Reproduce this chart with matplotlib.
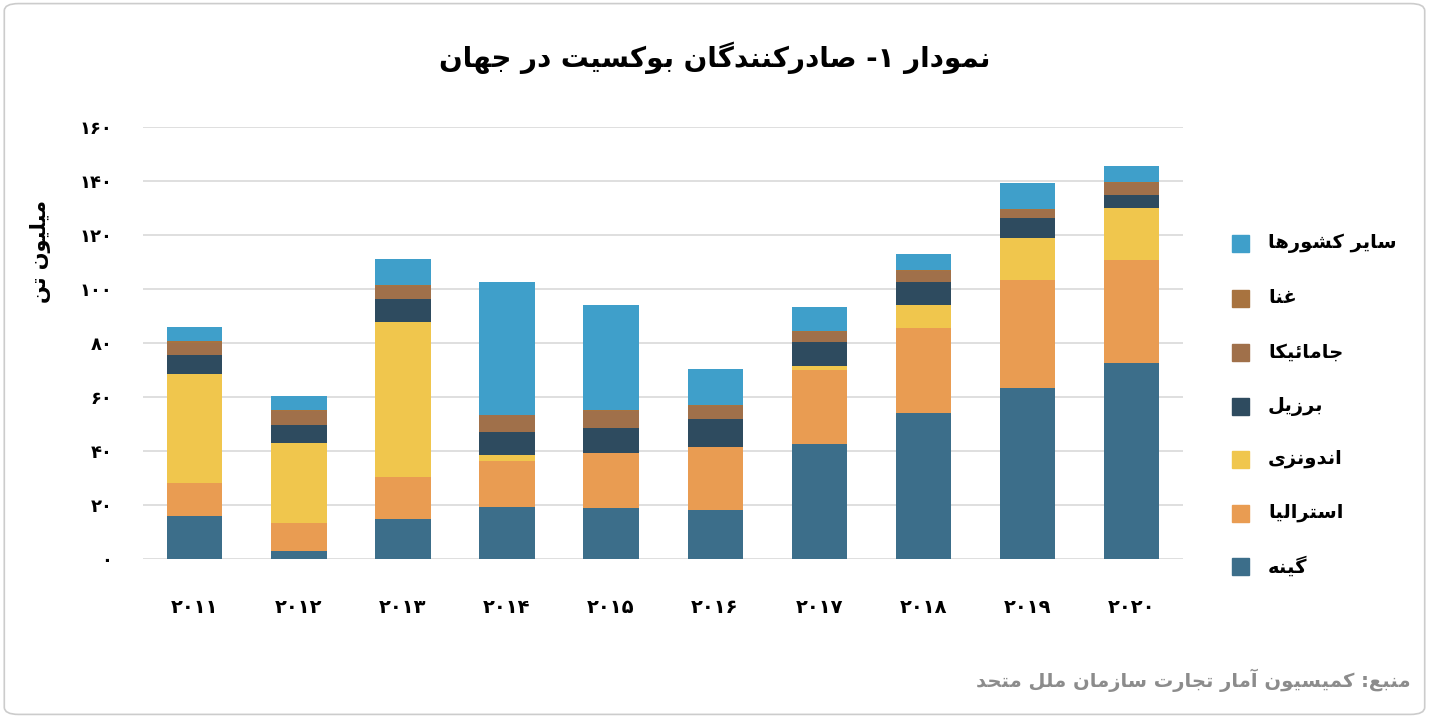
import matplotlib.pyplot as plt
import matplotlib.patches as mpatches
import numpy as np

years = ['۲۰۱۱', '۲۰۱۲', '۲۰۱۳', '۲۰۱۴', '۲۰۱۵', '۲۰۱۶', '۲۰۱۷', '۲۰۱۸', '۲۰۱۹', '۲۰۲۰']
guinea = [16, 3, 14.8, 19.3, 18.9, 18.1, 42.6, 54, 63.3, 72.6]
australia = [12, 10.3, 15.6, 17, 20.4, 23.4, 27.4, 31.5, 40, 38.1]
indonesia = [40.5, 29.7, 57.4, 2.2, 0, 0, 1.5, 8.5, 15.6, 19.3]
brazil = [7, 6.6, 8.5, 8.5, 9.2, 10.4, 8.9, 8.6, 7.4, 4.8]
jamaica = [4.5, 5.1, 4.7, 6.3, 6.3, 4.8, 3.6, 4, 3.0, 4.4]
ghana = [0.8, 0.5, 0.5, 0.2, 0.2, 0.2, 0.4, 0.4, 0.3, 0.4]
others = [5, 5, 9.5, 48.9, 39.2, 13.3, 8.9, 6, 9.7, 6]
yticks = [0, 20, 40, 60, 80, 100, 120, 140, 160]
ytick_labels = ['۰', '۲۰', '۴۰', '۶۰', '۸۰', '۱۰۰', '۱۲۰', '۱۴۰', '۱۶۰']

series = [
    ('گینه', guinea, '#3c6e8a'),
    ('استرالیا', australia, '#e99c52'),
    ('اندونزی', indonesia, '#f0c64d'),
    ('برزیل', brazil, '#2e4b5f'),
    ('جامائیکا', jamaica, '#a0704a'),
    ('غنا', ghana, '#a8733f'),
    ('سایر کشورها', others, '#3f9fca'),
]

# minimal Persian shaping: (isolated, final, initial, medial)
FORMS = {
    'ا': (0xFE8D, 0xFE8E, None, None), 'آ': (0xFE81, 0xFE82, None, None),
    'ب': (0xFE8F, 0xFE90, 0xFE91, 0xFE92), 'ت': (0xFE95, 0xFE96, 0xFE97, 0xFE98),
    'ج': (0xFE9D, 0xFE9E, 0xFE9F, 0xFEA0), 'ح': (0xFEA1, 0xFEA2, 0xFEA3, 0xFEA4),
    'د': (0xFEA9, 0xFEAA, None, None), 'ر': (0xFEAD, 0xFEAE, None, None),
    'ز': (0xFEAF, 0xFEB0, None, None), 'س': (0xFEB1, 0xFEB2, 0xFEB3, 0xFEB4),
    'ش': (0xFEB5, 0xFEB6, 0xFEB7, 0xFEB8), 'ص': (0xFEB9, 0xFEBA, 0xFEBB, 0xFEBC),
    'ع': (0xFEC9, 0xFECA, 0xFECB, 0xFECC), 'غ': (0xFECD, 0xFECE, 0xFECF, 0xFED0),
    'ف': (0xFED1, 0xFED2, 0xFED3, 0xFED4), 'ل': (0xFEDD, 0xFEDE, 0xFEDF, 0xFEE0),
    'م': (0xFEE1, 0xFEE2, 0xFEE3, 0xFEE4), 'ن': (0xFEE5, 0xFEE6, 0xFEE7, 0xFEE8),
    'ه': (0xFEE9, 0xFEEA, 0xFEEB, 0xFEEC), 'و': (0xFEED, 0xFEEE, None, None),
    'ئ': (0xFE89, 0xFE8A, 0xFE8B, 0xFE8C), 'ی': (0xFBFC, 0xFBFD, 0xFBFE, 0xFBFF),
    'ک': (0xFB8E, 0xFB8F, 0xFB90, 0xFB91), 'گ': (0xFB92, 0xFB93, 0xFB94, 0xFB95),
}


def fa(s):
    out = []
    for i, c in enumerate(s):
        if c not in FORMS:
            out.append(c)
            continue
        p = s[i - 1] if i > 0 else ''
        n = s[i + 1] if i + 1 < len(s) else ''
        jp = p in FORMS and FORMS[p][2] is not None
        jn = n in FORMS and FORMS[c][2] is not None
        f = FORMS[c]
        if jp and jn:
            code = f[3]
        elif jp:
            code = f[1]
        elif jn:
            code = f[2]
        else:
            code = f[0]
        out.append(chr(code))
    return ''.join(out)[::-1]


plt.rcParams['font.family'] = 'DejaVu Sans'
plt.rcParams['font.weight'] = 'bold'

fig = plt.figure(figsize=(14.29, 7.18), dpi=100)
fig.patches.append(mpatches.FancyBboxPatch((0.003, 0.005), 0.994, 0.99, boxstyle='round,pad=0,rounding_size=0.01',
                                           transform=fig.transFigure, fill=False, ec='#cccccc', lw=1.2))
ax = fig.add_axes([0.100, 0.2214, 0.728, 0.602])

x = np.arange(len(years))
bottom = np.zeros(len(years))
for name, vals, col in series:
    ax.bar(x, vals, 0.53, bottom=bottom, color=col, zorder=3)
    bottom += np.array(vals)

ax.set_ylim(0, 160)
ax.set_xlim(-0.5, len(years) - 0.5)
ax.set_yticks(yticks)
ax.set_yticklabels(ytick_labels, fontsize=13, fontweight='bold')
ax.set_xticks(x)
ax.set_xticklabels(years, fontsize=14, fontweight='bold')
ax.tick_params(length=0)
ax.tick_params(axis='y', pad=22)
ax.tick_params(axis='x', pad=28)
ax.grid(axis='y', color='#d9d9d9', lw=1.2, zorder=0)
for s in ax.spines.values():
    s.set_visible(False)

fig.text(0.5, 0.92, fa('نمودار ۱- صادرکنندگان بوکسیت در جهان'), ha='center', va='center', fontsize=20, fontweight='bold')
fig.text(0.028, 0.65, fa('میلیون تن'), ha='center', va='center', rotation=90, fontsize=15, fontweight='bold')

leg_y = [243, 298, 352, 406, 459, 513, 566]
for (name, vals, col), yy in zip(series[::-1], leg_y):
    fy = 1 - yy / 718
    fig.patches.append(mpatches.Rectangle((1232 / 1429, fy - 9 / 718), 17 / 1429, 17 / 718,
                                          transform=fig.transFigure, color=col))
    fig.text(1268 / 1429, fy, fa(name), ha='left', va='center', fontsize=14, fontweight='bold')

fig.text(0.987, 0.053, fa('منبع: کمیسیون آمار تجارت سازمان ملل متحد'), ha='right', va='center',
         fontsize=14, fontweight='bold', color='#8c8c8c')

fig.savefig('out.png', dpi=100)
